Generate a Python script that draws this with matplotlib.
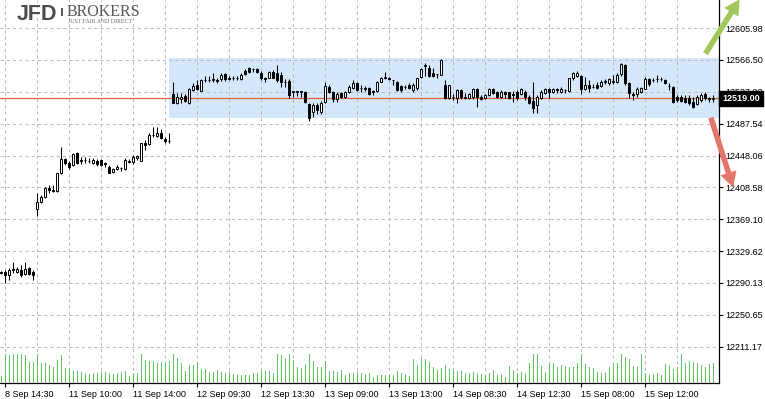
import numpy as np
import matplotlib
matplotlib.use('Agg')
import matplotlib.pyplot as plt
from matplotlib.patches import Rectangle, FancyArrowPatch
from matplotlib.transforms import blended_transform_factory

plt.rcParams['font.family'] = ['Liberation Sans', 'DejaVu Sans']

# 15 minute bars, 8 Sep 14:15 .. 15 Sep
opens = [12303, 12304, 12300, 12306, 12304, 12306, 12301, 12309, 12304,
         12382, 12390, 12397, 12408, 12405, 12404, 12426, 12444, 12439, 12436,
         12451, 12442, 12442, 12441.5, 12439, 12441.5, 12442, 12438.5, 12434, 12428,
         12431, 12432.5, 12431, 12440.5, 12440.5, 12444.5, 12441.5, 12463.5, 12462, 12473.5,
         12472, 12476, 12469, 12466.5,
         12524, 12513.5, 12518, 12522, 12513, 12529, 12536, 12528, 12542, 12541,
         12542, 12541, 12543, 12548.5, 12543, 12544, 12543.5, 12543, 12552.5, 12556,
         12555, 12555, 12550, 12543.5, 12544, 12552, 12550, 12548, 12539.5, 12540,
         12527, 12527, 12527, 12527,
         12512, 12502, 12510.5, 12502, 12514.5, 12533.5, 12526.5, 12518, 12525, 12521,
         12526.5, 12531.5, 12537.5, 12532, 12531, 12531.5, 12527, 12528, 12539.5, 12544.5,
         12544.5, 12541.5, 12539.5, 12534, 12533, 12535, 12529, 12531.5, 12545.5, 12559,
         12556, 12550, 12548.5, 12548,
         12535, 12519, 12521, 12519, 12529, 12520, 12519.5, 12520, 12531, 12521,
         12519, 12523, 12531, 12527, 12520, 12526.5, 12526.5, 12524, 12527, 12524,
         12527, 12520, 12515, 12510.5, 12519, 12525, 12531, 12526.5, 12531, 12526.5,
         12529, 12528, 12543.5, 12547,
         12547, 12531, 12536, 12533, 12536, 12534.5, 12539.5, 12537.5, 12539.5, 12539,
         12548.5, 12560, 12537.5, 12524, 12524, 12526.5, 12531, 12543, 12541.5, 12542.5,
         12543, 12541.5, 12534.5, 12533.5, 12521, 12521, 12519.7, 12519, 12514.7, 12511.5,
         12516.8, 12524, 12519, 12518.5]
highs = [12305, 12306, 12309, 12316, 12310, 12312, 12316, 12310, 12306,
         12402, 12399, 12409, 12411.5, 12411, 12427, 12459, 12445, 12441, 12451,
         12452, 12446, 12446, 12445, 12445, 12444, 12444, 12440.5, 12436, 12432,
         12436, 12434, 12445, 12443.5, 12449, 12449, 12464, 12467, 12476, 12483,
         12483, 12480.5, 12471.5, 12476,
         12539, 12526, 12525, 12524, 12532, 12537.5, 12541.5, 12543, 12547, 12547,
         12550, 12544.5, 12550, 12550, 12547, 12547, 12547, 12550, 12555, 12558,
         12557, 12556, 12552.5, 12545.7, 12552.5, 12554, 12560, 12552, 12543, 12543,
         12528, 12528, 12528, 12528,
         12513, 12513, 12513, 12515.5, 12538.5, 12535, 12528, 12527, 12527, 12528,
         12535.5, 12541.5, 12539.5, 12535.5, 12534.5, 12533.5, 12529, 12540.5, 12545.5, 12552,
         12545.5, 12542, 12540.5, 12536, 12535, 12537.5, 12537.5, 12544.5, 12556, 12563,
         12560, 12556, 12549, 12567,
         12541.5, 12536, 12524, 12531, 12531, 12525, 12525, 12532, 12532, 12523,
         12524, 12532, 12532, 12528, 12529, 12528, 12527, 12528, 12529, 12532,
         12529, 12523, 12539.5, 12523, 12529, 12532, 12532, 12532, 12532, 12533.5,
         12531, 12544.5, 12552, 12552.5,
         12548, 12545.5, 12541.5, 12536.3, 12539.5, 12541.5, 12542.8, 12544.5, 12547.8, 12550,
         12562.5, 12561.5, 12538.7, 12526.4, 12533.5, 12533.5, 12545.5, 12543.7, 12543.7, 12547.8,
         12545.7, 12542.8, 12537.5, 12534.5, 12523, 12523, 12523, 12522.6, 12520.9, 12523,
         12525.1, 12527.1, 12521, 12523]
lows = [12301, 12290, 12294, 12302, 12302, 12298, 12300, 12300, 12294,
        12373, 12389, 12395, 12401.5, 12403, 12403, 12425, 12436, 12431, 12435,
        12437, 12437.5, 12439, 12438.5, 12438, 12435, 12435, 12434, 12426, 12426,
        12430, 12429, 12430, 12438.5, 12438, 12442.5, 12441, 12455, 12461, 12471,
        12471, 12468, 12463, 12463,
        12513, 12512, 12513, 12514, 12511.5, 12528, 12529, 12527.5, 12538.5, 12539.5,
        12538.5, 12537.5, 12540, 12540, 12541, 12541.5, 12541, 12542, 12547.5, 12550,
        12552, 12550, 12541.5, 12538.7, 12543.5, 12543.5, 12539.5, 12533, 12533, 12519,
        12521, 12522, 12521, 12512.5,
        12491, 12496, 12500, 12499, 12512.5, 12525, 12514.5, 12514.5, 12519, 12519.5,
        12525, 12530.5, 12528, 12527, 12528, 12523, 12523.5, 12527, 12538.5, 12542.8,
        12541.5, 12536, 12528, 12527, 12530, 12530.5, 12527, 12529, 12543.5, 12546,
        12545, 12545.5, 12543.5, 12547.5,
        12518, 12517.5, 12517, 12512.5, 12518, 12518, 12518, 12518, 12508.5, 12516.5,
        12518, 12522, 12524, 12519, 12519, 12519, 12518, 12514.7, 12517, 12523,
        12516.8, 12511.5, 12500.5, 12500.5, 12518, 12524, 12519, 12525, 12525, 12525,
        12525, 12527, 12541.5, 12545.5,
        12524, 12529, 12527, 12531.3, 12531, 12533, 12536.3, 12536, 12536.3, 12537.5,
        12547, 12536, 12519.5, 12516.8, 12520.9, 12525, 12530.5, 12534.5, 12539.5, 12539.5,
        12540.4, 12536.3, 12529.2, 12512.7, 12514.7, 12514, 12512.7, 12510.6, 12506.5, 12510.6,
        12514.7, 12516.8, 12514.7, 12514.7]
closes = [12303.5, 12300, 12306, 12307, 12308, 12300, 12307, 12301, 12300,
          12390, 12397, 12408, 12405, 12404.5, 12426, 12444, 12439, 12434, 12450,
          12439, 12441.5, 12442.5, 12441, 12442.5, 12437, 12436, 12438, 12427, 12431,
          12434, 12432, 12442, 12441, 12446.5, 12447.5, 12463, 12461, 12473.5, 12474,
          12475.5, 12469.5, 12466.5, 12466,
          12513.5, 12521, 12521, 12515, 12531, 12534.5, 12530, 12541.5, 12541, 12541.5,
          12542.5, 12540, 12548, 12543, 12543.5, 12544.5, 12543.8, 12548, 12548.5, 12552,
          12555.5, 12552, 12543.5, 12543, 12552, 12544.5, 12541.5, 12539.5, 12539, 12523,
          12527.5, 12527.5, 12527.5, 12514,
          12494, 12510.5, 12504.5, 12512.5, 12534.5, 12526.5, 12518, 12524, 12521, 12526.5,
          12533.5, 12537.5, 12529, 12531.5, 12531.5, 12524, 12527.5, 12539.5, 12544.5, 12544.8,
          12543, 12541.7, 12529, 12529, 12532.5, 12531.5, 12535.5, 12543.5, 12555, 12560,
          12546, 12546.5, 12548.8, 12566,
          12519, 12535, 12520.5, 12529, 12520, 12519.5, 12524, 12531, 12521, 12517.5,
          12523, 12531, 12525, 12520, 12526.5, 12524, 12519, 12523.5, 12519, 12531,
          12520, 12513, 12507.5, 12521, 12527, 12531, 12527, 12531, 12529, 12531,
          12529.5, 12543.5, 12550, 12550,
          12530, 12536, 12531.5, 12533.5, 12532, 12539.5, 12540, 12543, 12540, 12548,
          12561, 12537.5, 12525, 12523.5, 12531, 12532, 12543, 12536.5, 12541.8, 12543,
          12542.5, 12537.5, 12534, 12514.7, 12516.8, 12515.6, 12514, 12512.7, 12508.5, 12521,
          12523, 12519, 12518.5, 12519]
volumes = [240, 1032, 996, 1032, 1032, 1032, 996, 756, 756,
           1032, 720, 720, 636, 576, 816, 996, 516, 516, 456,
           432, 396, 336, 312, 336, 360, 396, 372, 360, 300,
           360, 396, 420, 252, 360, 360, 1032, 816, 792, 792,
           720, 756, 720, 792,
           1032, 876, 696, 432, 636, 636, 744, 492, 492, 372,
           396, 456, 396, 360, 396, 300, 276, 276, 276, 276,
           360, 360, 432, 456, 432, 360, 1032, 996, 876, 1032,
           816, 576, 516, 672,
           1032, 792, 552, 552, 792, 432, 432, 396, 456, 276,
           336, 336, 396, 360, 312, 336, 216, 276, 288, 288,
           288, 288, 432, 360, 312, 240, 840, 636, 876, 840,
           756, 552, 456, 516,
           636, 480, 456, 432, 432, 360, 336, 396, 360, 300,
           276, 336, 456, 276, 300, 192, 600, 456, 360, 396,
           360, 720, 1032, 1032, 600, 396, 720, 696, 552, 636,
           600, 552, 552, 696,
           1032, 672, 576, 516, 396, 360, 396, 576, 672, 720,
           1032, 912, 840, 600, 576, 1032, 336, 276, 312, 360,
           276, 672, 636, 480, 576, 1032, 720, 792, 756, 696,
           636, 552, 672, 696]

price_ticks = [12211.17, 12250.65, 12290.13, 12329.62, 12369.10, 12408.58,
               12448.06, 12487.54, 12527.02, 12566.50, 12605.98]
top_tick = 12645.46
tick_idx = [1, 17, 33, 49, 65, 81, 97, 113, 129, 145, 161]
tick_labels = ['8 Sep 14:30', '11 Sep 10:00', '11 Sep 14:00', '12 Sep 09:30',
               '12 Sep 13:30', '13 Sep 09:00', '13 Sep 13:00', '14 Sep 08:30',
               '14 Sep 12:30', '15 Sep 08:00', '15 Sep 12:00']
last_price = 12519.00
range_start, range_low, range_high = 42.1, 12494.2, 12568.5

W, H = 765, 399
fig = plt.figure(figsize=(W / 100, H / 100), dpi=100)
pos = [0, 16.3 / H, 719 / W, 382.7 / H]
ax = fig.add_axes(pos)
ax.set_xlim(-0.25, 179.5)
ax.set_ylim(12166.6, 12640.7)

# range box and last price line
ax.add_patch(Rectangle((range_start, range_low), 200, range_high - range_low,
                       facecolor='#d5e7fb', edgecolor='none', zorder=0.2))
ax.axhline(last_price, color='#e2603f', lw=0.9, zorder=2)

# candles
x = np.arange(len(opens))
o, h, l, c = map(np.array, (opens, highs, lows, closes))
ax.vlines(x, l, h, color='black', lw=0.75, zorder=3)
up = c >= o
body = np.maximum(np.abs(c - o), 0.05)
ax.bar(x, body, bottom=np.minimum(o, c), width=0.55,
       color=np.where(up, 'white', 'black'), edgecolor='black', linewidth=0.7, zorder=4)

# axes / grid
ax.set_axisbelow(True)
ax.yaxis.tick_right()
ax.set_yticks(price_ticks)
ax.set_yticklabels([f'{v:.2f}' for v in price_ticks])
ax.set_xticks(tick_idx)
ax.set_xticklabels(tick_labels)
ax.set_xticks([i + 8 for i in tick_idx], minor=True)
for lbl in ax.get_xticklabels():
    lbl.set_ha('left')
ax.tick_params(axis='x', which='major', length=3, pad=2, labelsize=6.5)
ax.tick_params(axis='x', which='minor', length=0)
ax.tick_params(axis='y', length=3, pad=1.5, labelsize=6.5)
ax.xaxis.grid(True, which='both', color='#bdbdbd', linestyle=(0, (3, 3)), lw=0.75)
ax.yaxis.grid(True, which='major', color='#bdbdbd', linestyle=(0, (3, 3)), lw=0.75)
for s in ('left', 'top'):
    ax.spines[s].set_visible(False)
for s in ('right', 'bottom'):
    ax.spines[s].set_linewidth(0.9)

tr = blended_transform_factory(ax.transAxes, ax.transData)
ax.text(1 + 3 / 719, last_price, f'{last_price:.2f}', transform=tr, color='white',
        fontsize=6.5, fontweight='bold', va='center', ha='left', zorder=10, clip_on=False,
        bbox=dict(boxstyle='square,pad=0.35', fc='black', ec='black'))
ax.text(1 + 5 / 719, top_tick, f'{top_tick:.2f}', transform=tr, fontsize=6.5,
        va='center', ha='left', clip_on=False)

# volume
vax = fig.add_axes(pos)
vax.set_xlim(ax.get_xlim())
vax.set_ylim(0, 13760)
vax.vlines(x, 0, volumes, color='#66c466', lw=0.55, antialiased=False)
vax.axis('off')

# logo
fig.text(17 / W, 1 - 20 / H, 'JFD', fontsize=15.5, fontweight='bold', color='#4d4d4d',
         va='baseline', ha='left')
fig.add_artist(Rectangle((61 / W, 1 - 16 / H), 2 / W, 8 / H, transform=fig.transFigure,
                         facecolor='#5a5a5a', edgecolor='none'))
fig.text(67 / W, 1 - 15.5 / H, 'BROKERS', fontsize=11.5, family='Liberation Serif',
         color='#5a5a5a', va='baseline', ha='left')
fig.text(68 / W, 1 - 23 / H, 'JUST FAIR AND DIRECT', fontsize=4.2, family='Liberation Serif',
         color='#6a6a6a', va='baseline', ha='left')


def px(xp, yp):
    return (xp / W, 1 - yp / H)


fig.add_artist(FancyArrowPatch(px(704, 56), px(741, -3), transform=fig.transFigure,
                               arrowstyle='simple,head_length=11,head_width=12,tail_width=4',
                               mutation_scale=1, color='#a2c75c', lw=0))
fig.add_artist(FancyArrowPatch(px(710, 115), px(734, 190), transform=fig.transFigure,
                               arrowstyle='simple,head_length=11,head_width=12,tail_width=4',
                               mutation_scale=1, color='#e5766a', lw=0))

fig.savefig('out.png', dpi=100, facecolor='white')
